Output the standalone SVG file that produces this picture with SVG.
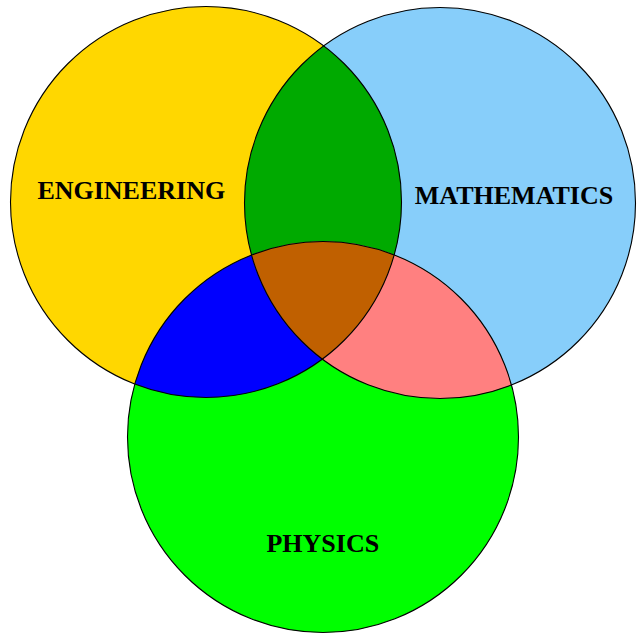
<svg xmlns="http://www.w3.org/2000/svg" width="638" height="634" viewBox="0 0 638 634">
  <style>
    .outline { fill: none; stroke: #000000; stroke-width: 1.1; }
    .label { font-family: "Liberation Serif", "Times New Roman", serif; font-weight: bold; font-size: 26px; fill: #000000; text-anchor: middle; }
  </style>
  <defs>
    <clipPath id="clipEng"><circle cx="206" cy="202" r="195.5"/></clipPath>
    <clipPath id="clipMath"><circle cx="440" cy="203" r="195.5"/></clipPath>
  </defs>
  <rect x="0" y="0" width="638" height="634" fill="#FFFFFF"/>

  <g id="engineering">
    <circle cx="206" cy="202" r="195.5" fill="#FFD700"/>
  </g>
  <g id="mathematics">
    <circle cx="440" cy="203" r="195.5" fill="#87CEFA"/>
  </g>
  <g id="physics">
    <circle cx="323" cy="437" r="195.5" fill="#00FF00"/>
  </g>

  <g id="overlaps">
    <circle id="eng-math" cx="440" cy="203" r="195.5" fill="#00AA00" clip-path="url(#clipEng)"/>
    <circle id="eng-phys" cx="323" cy="437" r="195.5" fill="#0000FF" clip-path="url(#clipEng)"/>
    <circle id="math-phys" cx="323" cy="437" r="195.5" fill="#FF8080" clip-path="url(#clipMath)"/>
    <g clip-path="url(#clipMath)">
      <circle id="all-three" cx="323" cy="437" r="195.5" fill="#C06000" clip-path="url(#clipEng)"/>
    </g>
  </g>

  <g id="outlines">
    <circle class="outline" cx="206" cy="202" r="195.5"/>
    <circle class="outline" cx="440" cy="203" r="195.5"/>
    <circle class="outline" cx="323" cy="437" r="195.5"/>
  </g>

  <g id="labels">
    <text class="label" x="131.3" y="199.3">ENGINEERING</text>
    <text class="label" x="514" y="204.3">MATHEMATICS</text>
    <text class="label" x="322.8" y="552.3">PHYSICS</text>
  </g>
</svg>
